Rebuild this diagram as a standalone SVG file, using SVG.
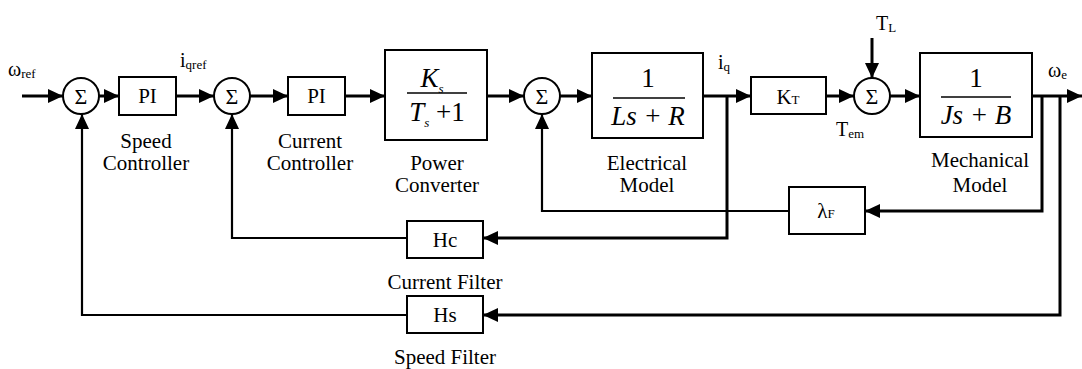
<svg xmlns="http://www.w3.org/2000/svg" width="1082" height="369" viewBox="0 0 1082 369">
<style>
text{font-family:"Liberation Serif","Times New Roman",serif;fill:#000}
.lbl{font-family:"Liberation Serif","Times New Roman",serif;font-size:21px;text-anchor:middle}
.blk{fill:#fff;stroke:#000;stroke-width:2}
.sum{fill:#fff;stroke:#000;stroke-width:2}
.w{fill:none;stroke:#000;stroke-width:3}
.f{fill:none;stroke:#000;stroke-width:2.2}
.bx{font-family:"Liberation Serif","Times New Roman",serif;font-size:21px;text-anchor:middle}
.sg{font-family:"Liberation Serif","Times New Roman",serif;font-size:22px;text-anchor:middle}
.frac{font-family:"Liberation Serif","Times New Roman",serif;font-size:27px;text-anchor:middle}
.sig{font-family:"Liberation Serif","Times New Roman",serif;font-size:20px}
.sub{font-size:13px}
.it{font-style:italic}
</style>
<defs>
<marker id="ah" markerUnits="userSpaceOnUse" markerWidth="16" markerHeight="14" refX="15" refY="7" orient="auto">
<path d="M0,0 L15,7 L0,14 z" fill="#000"/>
</marker>
</defs>

<g id="connectors">
<path class="w" d="M22,96 H63" marker-end="url(#ah)"/>
<path class="w" d="M99,96 H119" marker-end="url(#ah)"/>
<path class="w" d="M176,96 H214" marker-end="url(#ah)"/>
<path class="w" d="M250,96 H288" marker-end="url(#ah)"/>
<path class="w" d="M345,96 H385" marker-end="url(#ah)"/>
<path class="w" d="M487,96 H524" marker-end="url(#ah)"/>
<path class="w" d="M560,96 H592" marker-end="url(#ah)"/>
<path class="w" d="M703,96 H751" marker-end="url(#ah)"/>
<path class="w" d="M826,96 H854" marker-end="url(#ah)"/>
<path class="w" d="M872,38 V78" marker-end="url(#ah)"/>
<path class="w" d="M890,96 H920" marker-end="url(#ah)"/>
<path class="w" d="M1032,96 H1082" marker-end="url(#ah)"/>
<path class="w" d="M1060,96 V315 H483" marker-end="url(#ah)"/>
<path class="f" d="M407,315 H82 V114" marker-end="url(#ah)"/>
<path class="w" d="M727,96 V238 H483" marker-end="url(#ah)"/>
<path class="f" d="M407,238 H232 V114" marker-end="url(#ah)"/>
<path class="w" d="M1042,96 V211 H865" marker-end="url(#ah)"/>
<path class="f" d="M789,211 H542 V114" marker-end="url(#ah)"/>
</g>

<g id="sum1"><circle class="sum" cx="81" cy="96" r="18"/><text class="sg" x="81" y="104">Σ</text></g>
<g id="pi1"><rect class="blk" x="119" y="77" width="57" height="38"/><text class="bx" x="147.5" y="103">PI</text>
<text class="lbl" x="146" y="148">Speed</text><text class="lbl" x="146" y="170">Controller</text></g>
<g id="sum2"><circle class="sum" cx="232" cy="96" r="18"/><text class="sg" x="232" y="104">Σ</text></g>
<g id="pi2"><rect class="blk" x="288" y="77" width="57" height="38"/><text class="bx" x="316.5" y="103">PI</text>
<text class="lbl" x="310" y="148">Current</text><text class="lbl" x="310" y="170">Controller</text></g>
<g id="power"><rect class="blk" x="385" y="50" width="102" height="90"/>
<text class="frac it" x="432" y="87">K<tspan class="sub" dy="6">s</tspan></text>
<line x1="407" y1="93" x2="467" y2="93" stroke="#000" stroke-width="1.5"/>
<text class="frac" x="437" y="121"><tspan class="it">T</tspan><tspan class="sub it" dy="6">s</tspan><tspan dy="-6"> +1</tspan></text>
<text class="lbl" x="437" y="170">Power</text><text class="lbl" x="437" y="192">Converter</text></g>
<g id="sum3"><circle class="sum" cx="542" cy="96" r="18"/><text class="sg" x="542" y="104">Σ</text></g>
<g id="elec"><rect class="blk" x="592" y="53" width="111" height="85"/>
<text class="frac" x="648" y="87">1</text>
<line x1="613" y1="98" x2="685" y2="98" stroke="#000" stroke-width="1.5"/>
<text class="frac it" x="648" y="125">Ls + R</text>
<text class="lbl" x="647" y="170">Electrical</text><text class="lbl" x="647" y="192">Model</text></g>
<g id="kt"><rect class="blk" x="751" y="77" width="75" height="37"/><text class="bx" x="788" y="104">K<tspan class="sub">T</tspan></text></g>
<g id="sum4"><circle class="sum" cx="872" cy="96" r="18"/><text class="sg" x="872" y="104">Σ</text></g>
<g id="mech"><rect class="blk" x="920" y="53" width="112" height="84"/>
<text class="frac" x="976" y="87">1</text>
<line x1="941" y1="97" x2="1011" y2="97" stroke="#000" stroke-width="1.5"/>
<text class="frac it" x="976" y="124">Js + B</text>
<text class="lbl" x="980" y="167">Mechanical</text><text class="lbl" x="980" y="192">Model</text></g>
<g id="lambda"><rect class="blk" x="789" y="187" width="76" height="47"/><text class="bx" x="826" y="218">λ<tspan class="sub">F</tspan></text></g>
<g id="hc"><rect class="blk" x="407" y="221" width="76" height="37"/><text class="bx" x="445" y="247">Hc</text>
<text class="lbl" x="445" y="289">Current Filter</text></g>
<g id="hs"><rect class="blk" x="407" y="296" width="76" height="37"/><text class="bx" x="445" y="322">Hs</text>
<text class="lbl" x="445" y="364">Speed Filter</text></g>

<g id="signals">
<text class="sig" x="8" y="76">ω<tspan class="sub" dy="2">ref</tspan></text>
<text class="sig" x="180" y="67">i<tspan class="sub" dy="2">qref</tspan></text>
<text class="sig" x="718" y="69">i<tspan class="sub" dy="2">q</tspan></text>
<text class="sig" x="876" y="30">T<tspan class="sub" dy="2">L</tspan></text>
<text class="sig" x="836" y="136">T<tspan class="sub" dy="2">em</tspan></text>
<text class="sig" x="1048" y="77">ω<tspan class="sub" dy="2">e</tspan></text>
</g>
</svg>
